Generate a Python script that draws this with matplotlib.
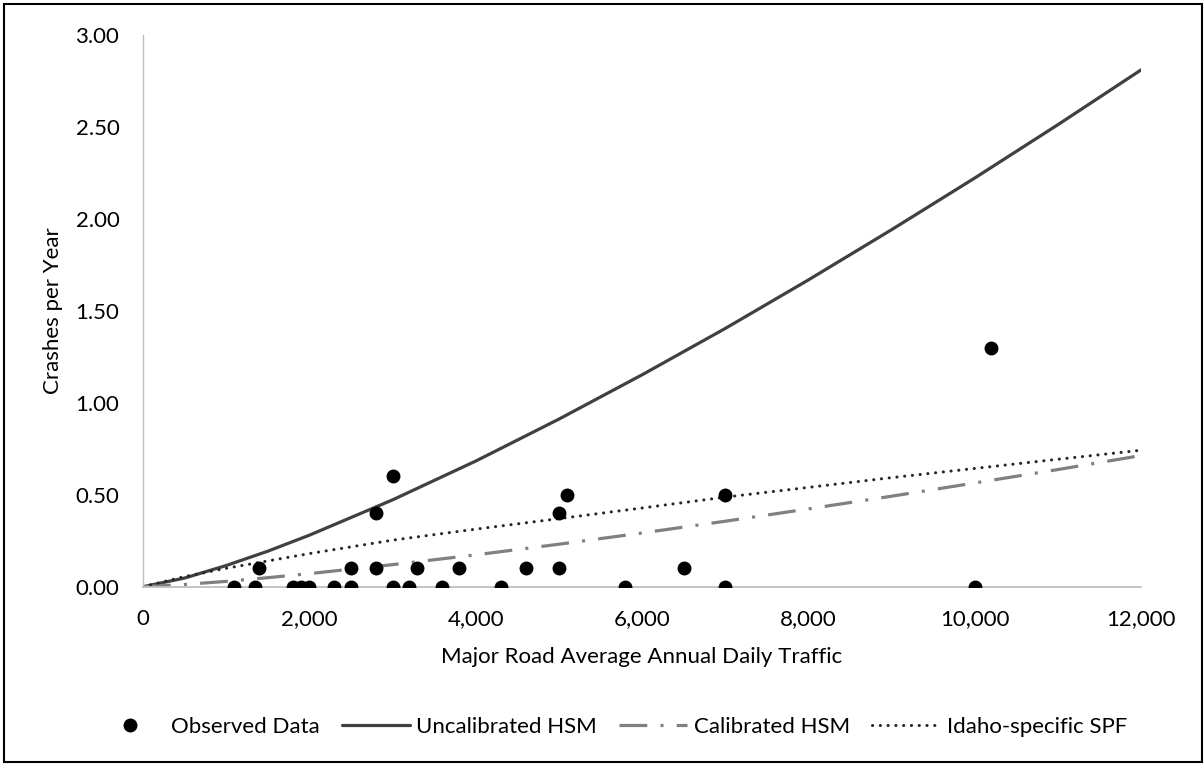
import matplotlib
matplotlib.use("Agg")
import matplotlib.pyplot as plt
from matplotlib.ticker import StrMethodFormatter, MultipleLocator
from matplotlib.patches import Rectangle

plt.rcParams['font.family'] = ['Lato', 'DejaVu Sans']
plt.rcParams['lines.scale_dashes'] = False

# observed crashes per year vs. major road AADT
obs_aadt = [1100, 1350, 1800, 1900, 2000, 2300, 2500, 3000, 3200, 3600, 4300, 5800, 7000, 10000,
            1400, 2500, 2800, 3300, 3800, 4600, 5000, 6500,
            2800, 5000, 3000, 5100, 7000, 10200]
obs_crashes = [0, 0, 0, 0, 0, 0, 0, 0, 0, 0, 0, 0, 0, 0,
               0.1, 0.1, 0.1, 0.1, 0.1, 0.1, 0.1, 0.1,
               0.4, 0.4, 0.6, 0.5, 0.5, 1.3]

# model curves
aadt = [0, 500, 1000, 1500, 2000, 3000, 4000, 5000, 6000, 7000, 8000, 9000, 10000, 11000, 12000]
uncalibrated = [0, 0.047, 0.115, 0.193, 0.28, 0.472, 0.683, 0.911, 1.152, 1.404, 1.668, 1.941, 2.222, 2.512, 2.81]
calibrated = [0, 0.012, 0.029, 0.049, 0.071, 0.12, 0.173, 0.231, 0.292, 0.356, 0.423, 0.492, 0.564, 0.637, 0.713]
idaho = [0, 0.055, 0.10, 0.14, 0.18, 0.253, 0.313, 0.37, 0.428, 0.487, 0.54, 0.593, 0.643, 0.693, 0.742]

fs = 16

fig = plt.figure(figsize=(12.04, 7.65), dpi=100)
ax = fig.add_axes([143 / 1204, 1 - 586.7 / 765, (1141 - 143) / 1204, (586.7 - 35) / 765])

ax.plot(obs_aadt, obs_crashes, linestyle='none', marker='o', ms=9, color='black',
        label='Observed Data', zorder=5)
ax.plot(aadt, uncalibrated, color='#404040', lw=2.3, label='Uncalibrated HSM',
        solid_capstyle='round')
ax.plot(aadt, calibrated, color='#808080', lw=2.3, dashes=(20, 9.5, 2.2, 9.5),
        label='Calibrated HSM')
ax.plot(aadt, idaho, color='#262626', lw=2.2, dashes=(0.1, 5.5), dash_capstyle='round',
        label='Idaho-specific SPF')

ax.set_xlim(0, 12000)
ax.set_ylim(0, 3.0)
ax.xaxis.set_major_locator(MultipleLocator(2000))
ax.yaxis.set_major_locator(MultipleLocator(0.5))
ax.xaxis.set_major_formatter(StrMethodFormatter('{x:,.0f}'))
ax.yaxis.set_major_formatter(StrMethodFormatter('{x:.2f}'))
ax.tick_params(length=0, labelsize=fs, colors='black')
ax.tick_params(axis='y', pad=17)
ax.tick_params(axis='x', pad=16)

for s in ['top', 'right']:
    ax.spines[s].set_visible(False)
ax.spines['left'].set_color('#bfbfbf')
ax.spines['bottom'].set_color('#bfbfbf')
ax.spines['left'].set_linewidth(1.0)
ax.spines['bottom'].set_linewidth(1.3)

ax.set_xlabel('Major Road Average Annual Daily Traffic', fontsize=fs, labelpad=13)
ax.set_ylabel('Crashes per Year', fontsize=fs, labelpad=9)

fig.legend(loc='center', bbox_to_anchor=(0.508, 1 - 727 / 765), ncol=4, frameon=False,
           fontsize=fs, handlelength=3.06, handletextpad=0.3, columnspacing=1.0)

fig.patches.append(Rectangle((4 / 1204, 3 / 765), 1198 / 1204, 758 / 765, transform=fig.transFigure,
                             fill=False, edgecolor='black', lw=1.5))

fig.savefig('out.png', dpi=100)
